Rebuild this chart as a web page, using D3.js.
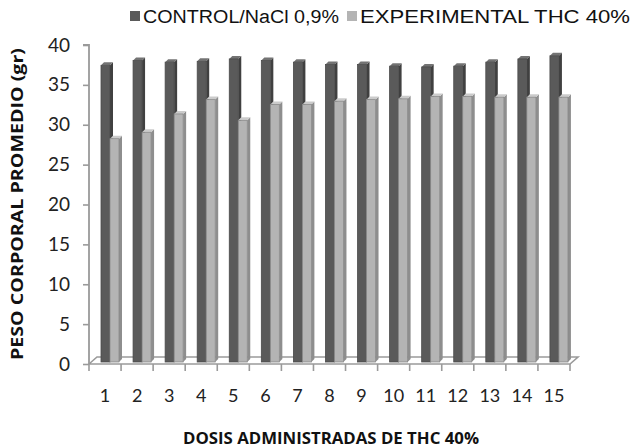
<!DOCTYPE html>
<html>
<head>
<meta charset="utf-8">
<script src="https://cdn.jsdelivr.net/npm/d3@7"></script>
<style>
  html, body { margin: 0; padding: 0; background: #fff; }
  svg { display: block; }
</style>
</head>
<body>
<svg id="chart" width="631" height="448"></svg>
<script>
// Dose days and mean body weight (g) per group
const categories = ["1","2","3","4","5","6","7","8","9","10","11","12","13","14","15"];
const controlValues = [37.2, 37.8, 37.6, 37.7, 38.0, 37.8, 37.6, 37.3, 37.3, 37.1, 37.0, 37.1, 37.6, 38.0, 38.4];
const thcValues = [28.0, 28.8, 31.1, 32.9, 30.3, 32.3, 32.3, 32.7, 32.9, 33.0, 33.3, 33.3, 33.2, 33.2, 33.2];
const seriesNames = ["CONTROL/NaCl 0,9%", "EXPERIMENTAL THC 40%"];
const yTicks = [0, 5, 10, 15, 20, 25, 30, 35, 40];

const svg = d3.select("#chart");

const x = d3.scaleBand().domain(categories).range([89, 570]).padding(0);
const y = d3.scaleLinear().domain([0, 40]).range([364, 45]);

// floor depth of the 3-D plot area
const depthX = 8, depthY = -7;

const axisColor = "#9a9a9a";

// floor
const x0 = x.range()[0], x1 = x.range()[1], y0 = y(0);
svg.append("path")
  .attr("d", `M${x0},${y0} L${x0 + depthX},${y0 + depthY} L${x1 + depthX},${y0 + depthY} L${x1},${y0} Z`)
  .attr("fill", "#fff")
  .attr("stroke", axisColor)
  .attr("stroke-width", 1.6);

// bars with front, side and top faces
const barW = 9, barOff = 10, bx = 2, by = -2, dx = 3, dy = -3;
const series = [
  { values: controlValues, front: "#5a5a5a", side: "#404040", top: "#737373", stroke: "#4a4a4a", idx: 0 },
  { values: thcValues, front: "#b4b4b4", side: "#8e8e8e", top: "#cbcbcb", stroke: "#8a8a8a", idx: 1 }
];

series.forEach(s => {
  const g = svg.append("g");
  categories.forEach((c, i) => {
    const left = x(c) + barOff + s.idx * barW + bx;
    const right = left + barW;
    const bottom = y(0) + by;
    const topY = y(s.values[i]) + by;
    // side face
    g.append("path")
      .attr("d", `M${right},${bottom} L${right},${topY} L${right + dx},${topY + dy} L${right + dx},${bottom + dy} Z`)
      .attr("fill", s.side);
    // top face
    g.append("path")
      .attr("d", `M${left},${topY} L${left + dx},${topY + dy} L${right + dx},${topY + dy} L${right},${topY} Z`)
      .attr("fill", s.top);
    // front face
    g.append("rect")
      .attr("x", left).attr("y", topY)
      .attr("width", barW).attr("height", bottom - topY)
      .attr("fill", s.front)
      .attr("stroke", s.stroke)
      .attr("stroke-width", 0.8);
  });
});

// value axis
const yAxis = d3.axisLeft(y).tickValues(yTicks).tickSize(6).tickPadding(13).tickFormat(d3.format("d"));
const gy = svg.append("g").attr("transform", `translate(${x0},0)`).call(yAxis);
gy.select(".domain").attr("stroke", axisColor).attr("stroke-width", 1.8).attr("d", `M-6,${y(40)}H0V${y(0)}`);
gy.selectAll(".tick line").attr("stroke", axisColor).attr("stroke-width", 1.6);
gy.selectAll(".tick text")
  .attr("fill", "#222")
  .style("font-family", "Lato, 'Open Sans', sans-serif")
  .style("font-size", "19px");

// category axis
const xAxis = d3.axisBottom(x).tickSize(0).tickPadding(25);
const gx = svg.append("g").attr("transform", `translate(0,${y0})`).call(xAxis);
gx.select(".domain").remove();
gx.selectAll(".tick text")
  .attr("fill", "#222")
  .style("font-family", "Lato, 'Open Sans', sans-serif")
  .style("font-size", "18px");
// category boundary ticks
const bounds = categories.map(c => x(c)).concat([x1]);
gx.selectAll("line.bound").data(bounds).join("line")
  .attr("class", "bound")
  .attr("x1", d => d).attr("x2", d => d)
  .attr("y1", 0).attr("y2", 7)
  .attr("stroke", axisColor).attr("stroke-width", 1.6);

// axis titles
svg.append("text")
  .attr("transform", "translate(23,204) rotate(-90)")
  .attr("text-anchor", "middle")
  .attr("fill", "#111")
  .style("font-family", "'Open Sans', Lato, sans-serif")
  .style("font-weight", "bold")
  .style("font-size", "16px")
  .attr("textLength", 312)
  .attr("lengthAdjust", "spacingAndGlyphs")
  .text("PESO CORPORAL PROMEDIO (gr)");

svg.append("text")
  .attr("x", 331).attr("y", 444)
  .attr("text-anchor", "middle")
  .attr("fill", "#111")
  .style("font-family", "'Open Sans', Lato, sans-serif")
  .style("font-weight", "bold")
  .style("font-size", "16px")
  .attr("textLength", 296)
  .attr("lengthAdjust", "spacingAndGlyphs")
  .text("DOSIS ADMINISTRADAS DE THC 40%");

// legend
const legend = [
  { name: seriesNames[0], color: series[0].front, x: 130, len: 196 },
  { name: seriesNames[1], color: series[1].front, x: 347, len: 270 }
];
const lg = svg.append("g");
legend.forEach(l => {
  lg.append("rect").attr("x", l.x).attr("y", 11).attr("width", 10).attr("height", 10).attr("fill", l.color);
  lg.append("text")
    .attr("x", l.x + 13).attr("y", 22.5)
    .attr("fill", "#111")
    .style("font-family", "'Liberation Sans', Arial, sans-serif")
    .style("font-size", "18px")
    .attr("textLength", l.len)
    .attr("lengthAdjust", "spacingAndGlyphs")
    .text(l.name);
});
</script>
</body>
</html>
